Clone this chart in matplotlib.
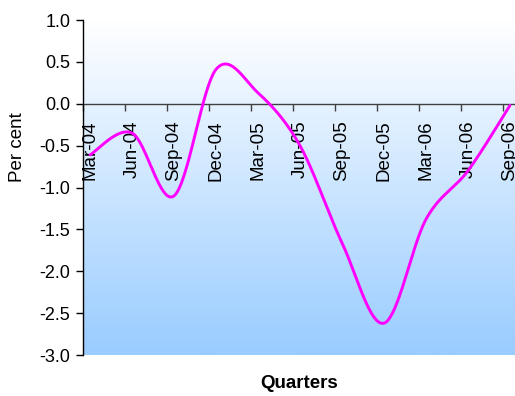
import numpy as np
import matplotlib
matplotlib.use("Agg")
import matplotlib.pyplot as plt
from matplotlib.colors import LinearSegmentedColormap

plt.rcParams['font.family'] = ['Liberation Sans', 'DejaVu Sans']

quarters = ["Mar-04", "Jun-04", "Sep-04", "Dec-04", "Mar-05", "Jun-05",
            "Sep-05", "Dec-05", "Mar-06", "Jun-06", "Sep-06"]
values = [-0.61, -0.35, -1.10, 0.41, 0.13, -0.50,
          -1.66, -2.62, -1.38, -0.80, -0.02]
y_ticks = [1.0, 0.5, 0.0, -0.5, -1.0, -1.5, -2.0, -2.5, -3.0]


def smooth_curve(x, y, n=40):
    """Cubic Bezier smoothing through every point (spreadsheet-style)."""
    x = np.asarray(x, float)
    y = np.asarray(y, float)
    px = np.concatenate([[x[0]], x, [x[-1]]])
    py = np.concatenate([[y[0]], y, [y[-1]]])
    xs, ys = [], []
    t = np.linspace(0, 1, n)
    for i in range(len(x) - 1):
        p0 = np.array([px[i + 1], py[i + 1]])
        p3 = np.array([px[i + 2], py[i + 2]])
        p1 = p0 + (np.array([px[i + 2], py[i + 2]]) - np.array([px[i], py[i]])) / 6
        p2 = p3 - (np.array([px[i + 3], py[i + 3]]) - np.array([px[i + 1], py[i + 1]])) / 6
        b = ((1 - t) ** 3)[:, None] * p0 + (3 * (1 - t) ** 2 * t)[:, None] * p1 \
            + (3 * (1 - t) * t ** 2)[:, None] * p2 + (t ** 3)[:, None] * p3
        xs.append(b[:, 0])
        ys.append(b[:, 1])
    return np.concatenate(xs), np.concatenate(ys)


W, H = 515, 396
fig = plt.figure(figsize=(W / 100, H / 100), dpi=100)
ax = fig.add_axes([83 / W, (H - 355) / H, 432 / W, 335 / H])

# vertical gradient background: white at top to light blue at bottom
cmap = LinearSegmentedColormap.from_list("bg", ["#99CCFF", "#FFFFFF"])
grad = np.linspace(0, 1, 256).reshape(-1, 1)
ax.imshow(grad, cmap=cmap, aspect="auto", origin="lower",
          extent=[0, 1, 0, 1], transform=ax.transAxes, zorder=0)

xpos = np.arange(len(quarters))
sx, sy = smooth_curve(xpos, values)
ax.plot(sx, sy, color="#FF00FF", lw=2.1, zorder=3, solid_capstyle="round")

ax.set_xlim(-0.167, 10.12)
ax.set_ylim(-3.0, 1.0)

for s in ["top", "right"]:
    ax.spines[s].set_visible(False)
ax.spines["left"].set_color("black")
ax.spines["left"].set_linewidth(1.0)
ax.spines["bottom"].set_position(("data", 0))
ax.spines["bottom"].set_color("#404040")
ax.spines["bottom"].set_linewidth(1.0)
ax.spines["bottom"].set_zorder(2)

ax.set_yticks(y_ticks)
ax.set_yticklabels([f"{v:.1f}" for v in y_ticks], fontsize=13)
ax.tick_params(axis="y", direction="out", length=5, width=1, pad=4)

ax.set_xticks(xpos)
ax.set_xticklabels(quarters, rotation=90, fontsize=13.5, va="top", ha="center")
ax.set_xticks(xpos - 0.167, minor=True)
ax.tick_params(axis="x", which="major", length=0, pad=12)
ax.tick_params(axis="x", which="minor", direction="out", length=5, width=1,
               color="#404040")

ax.set_ylabel("Per cent", fontsize=13.5)
ax.yaxis.set_label_coords((26 - 83) / 432, (355 - 147) / 335)

fig.text(299 / W, 1 - 383 / H, "Quarters", fontsize=13.5, fontweight="bold",
         ha="center", va="center")

fig.savefig("out.png", dpi=100)
